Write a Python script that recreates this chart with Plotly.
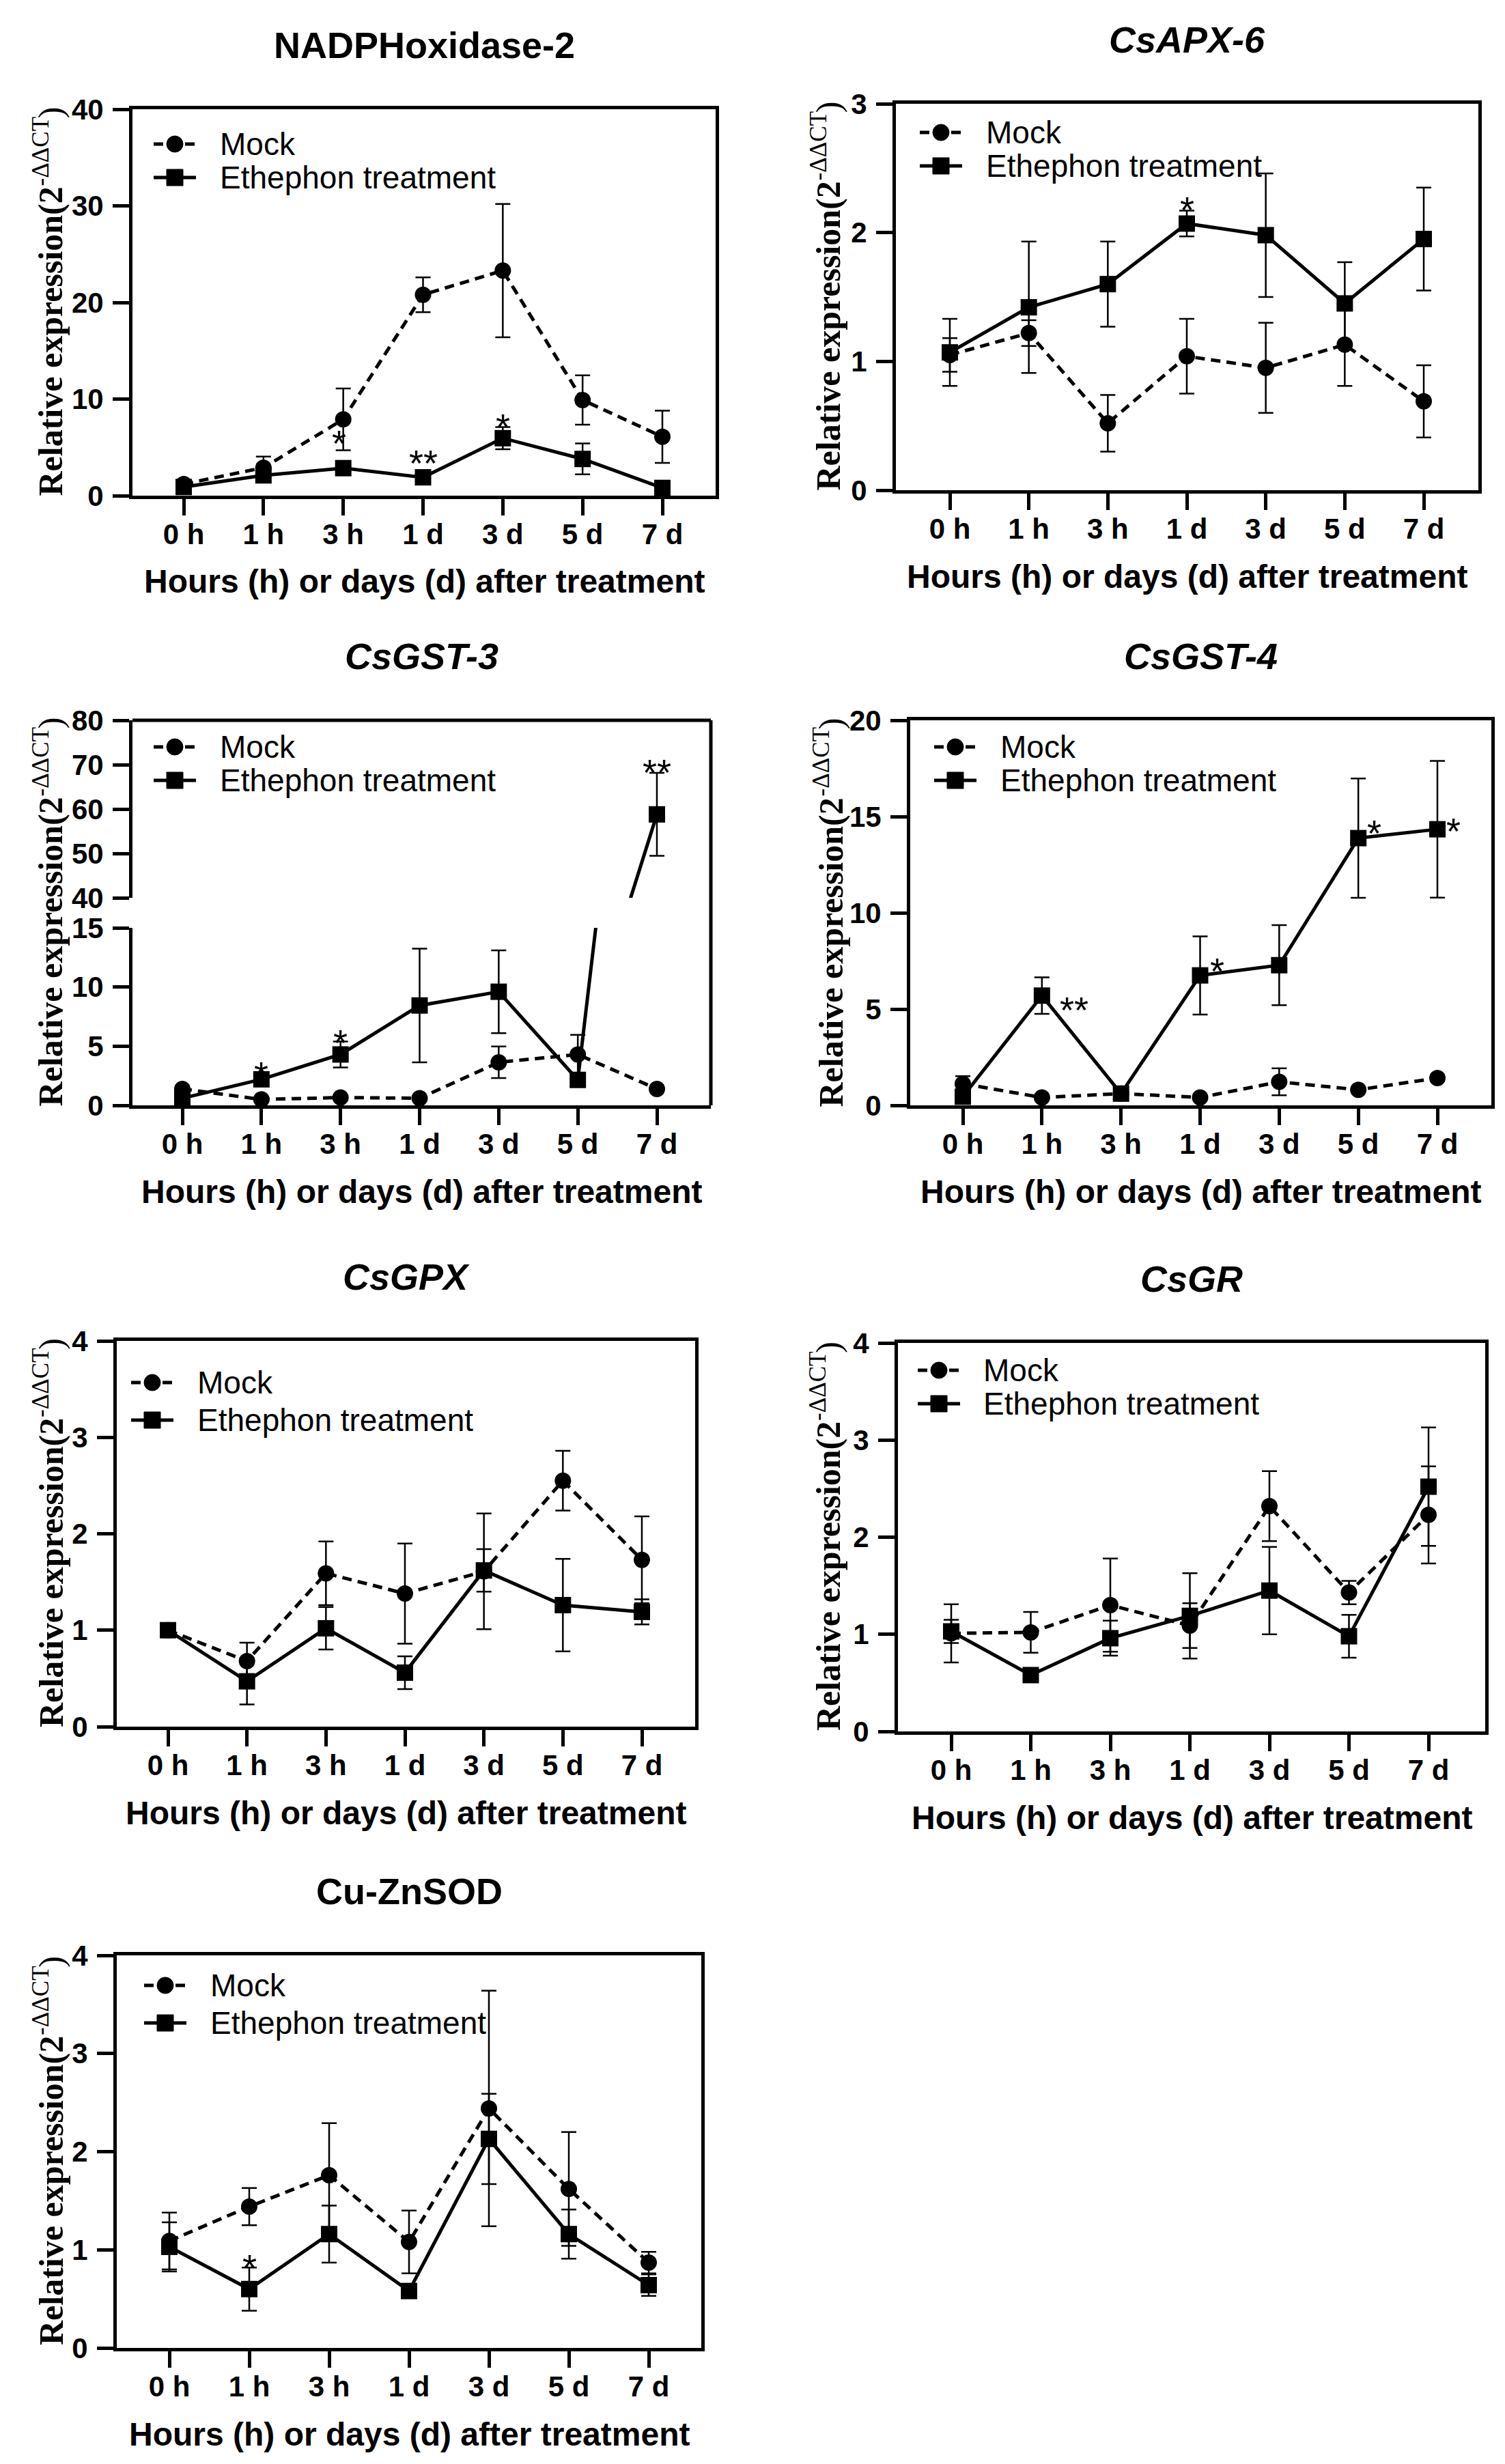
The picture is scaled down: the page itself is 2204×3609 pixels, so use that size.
import plotly.graph_objects as go

W, H = 2204, 3609
time_points = ["0 h", "1 h", "3 h", "1 d", "3 d", "5 d", "7 d"]
series_names = ["Mock", "Ethephon treatment"]
x_title = "Hours (h) or days (d) after treatment"
y_title_main = "Relative expression(2"
y_title_sup = "-ΔΔCT"
y_title_end = ")"

# ---------------- data ----------------
nadph_mock = [1.2, 2.9, 7.9, 20.8, 23.3, 9.9, 6.1]
nadph_mock_err = [0.4, 1.15, 3.2, 1.8, 6.9, 2.55, 2.7]
nadph_eth = [0.9, 2.1, 2.85, 1.9, 5.95, 3.8, 0.8]
nadph_eth_err = [0.3, 0.5, 0.5, 0.6, 1.15, 1.6, 0.3]
nadph_stars = [(1.95, 6.4, "*"), (3.0, 4.4, "**"), (4.0, 8.1, "*")]

apx_mock = [1.05, 1.22, 0.52, 1.04, 0.95, 1.13, 0.69]
apx_mock_err = [0.13, 0.10, 0.22, 0.29, 0.35, 0.32, 0.28]
apx_eth = [1.07, 1.42, 1.60, 2.07, 1.98, 1.45, 1.95]
apx_eth_err = [0.26, 0.51, 0.33, 0.10, 0.48, 0.32, 0.40]
apx_stars = [(3.0, 2.25, "*")]

gst3_mock = [1.39, 0.5, 0.66, 0.6, 3.64, 4.3, 1.39]
gst3_mock_err = [0.2, 0.1, 0.1, 0.1, 1.33, 1.65, 0.2]
gst3_eth = [0.6, 2.2, 4.3, 8.44, 9.6, 2.15, 58.8]
gst3_eth_err = [0.2, 0.3, 1.1, 4.8, 3.5, 0.3, 9.35]
gst3_stars_low = [(1.0, 3.4, "*"), (2.0, 6.1, "*")]
gst3_stars_high = [(6.0, 70.5, "**")]

gst4_mock = [1.12, 0.41, 0.61, 0.41, 1.22, 0.81, 1.42]
gst4_mock_err = [0.4, 0.1, 0.1, 0.1, 0.7, 0.1, 0.15]
gst4_eth = [0.45, 5.7, 0.61, 6.75, 7.28, 13.88, 14.34]
gst4_eth_err = [0.2, 0.95, 0.1, 2.03, 2.08, 3.1, 3.55]
gst4_stars = [(1.41, 5.46, "**"), (3.22, 7.5, "*"), (5.2, 14.65, "*"), (6.2, 14.75, "*")]

gpx_mock = [1.0, 0.68, 1.59, 1.38, 1.61, 2.55, 1.73]
gpx_mock_err = [0.02, 0.19, 0.33, 0.52, 0.6, 0.31, 0.45]
gpx_eth = [1.0, 0.47, 1.02, 0.56, 1.62, 1.26, 1.19]
gpx_eth_err = [0.02, 0.24, 0.22, 0.17, 0.22, 0.48, 0.13]

gr_mock = [1.01, 1.02, 1.30, 1.09, 2.32, 1.43, 2.23]
gr_mock_err = [0.3, 0.21, 0.48, 0.23, 0.36, 0.12, 0.5]
gr_eth = [1.03, 0.58, 0.96, 1.19, 1.45, 0.98, 2.52]
gr_eth_err = [0.12, 0.03, 0.18, 0.44, 0.45, 0.22, 0.61]

sod_mock = [1.09, 1.44, 1.76, 1.08, 2.44, 1.62, 0.87]
sod_mock_err = [0.29, 0.19, 0.53, 0.32, 1.2, 0.58, 0.11]
sod_eth = [1.03, 0.60, 1.16, 0.58, 2.13, 1.16, 0.64]
sod_eth_err = [0.25, 0.22, 0.29, 0.04, 0.46, 0.25, 0.11]
sod_stars = [(1.0, 0.92, "*")]

# ---------------- panel geometry (pixels: left, right, top, bottom) ----------------
panels = [
    dict(title="NADPHoxidase-2", italic=False, mock=nadph_mock, mock_err=nadph_mock_err,
         eth=nadph_eth, eth_err=nadph_eth_err, stars=nadph_stars, yticks=[0, 10, 20, 30, 40],
         box=(186, 1040, 152, 718), cats=(261, 962), ytdx=120, leg=(31, 126, 51, 100)),
    dict(title="CsAPX-6", italic=True, mock=apx_mock, mock_err=apx_mock_err,
         eth=apx_eth, eth_err=apx_eth_err, stars=apx_stars, yticks=[0, 1, 2, 3],
         box=(1304, 2157, 144, 710), cats=(1383, 2077), ytdx=99, leg=(35, 130, 42, 91)),
    dict(title="CsGST-3", italic=True, mock=gst3_mock, mock_err=gst3_mock_err,
         eth=gst3_eth, eth_err=gst3_eth_err, stars=gst3_stars_low, yticks=[0, 5, 10, 15],
         box=(186, 1033, 1047, 1611), cats=(259, 954), ytdx=120, leg=(31, 126, 39, 88),
         brk=dict(low_top=1351, up_bottom=1307, low=[0, 15], up=[40, 80],
                  upticks=[40, 50, 60, 70, 80], upstars=gst3_stars_high)),
    dict(title="CsGST-4", italic=True, mock=gst4_mock, mock_err=gst4_mock_err,
         eth=gst4_eth, eth_err=gst4_eth_err, stars=gst4_stars, yticks=[0, 5, 10, 15, 20],
         box=(1325, 2176, 1047, 1611), cats=(1402, 2097), ytdx=116, leg=(35, 130, 39, 88)),
    dict(title="CsGPX", italic=True, mock=gpx_mock, mock_err=gpx_mock_err,
         eth=gpx_eth, eth_err=gpx_eth_err, stars=[], yticks=[0, 1, 2, 3, 4],
         box=(163, 1010, 1956, 2521), cats=(238, 932), ytdx=96, leg=(21, 116, 61, 116)),
    dict(title="CsGR", italic=True, mock=gr_mock, mock_err=gr_mock_err,
         eth=gr_eth, eth_err=gr_eth_err, stars=[], yticks=[0, 1, 2, 3, 4],
         box=(1307, 2167, 1959, 2528), cats=(1385, 2084), ytdx=102, leg=(29, 123, 40, 89)),
    dict(title="Cu-ZnSOD", italic=False, mock=sod_mock, mock_err=sod_mock_err,
         eth=sod_eth, eth_err=sod_eth_err, stars=sod_stars, yticks=[0, 1, 2, 3, 4],
         box=(163, 1019, 2856, 3431), cats=(240, 942), ytdx=96, leg=(40, 135, 44, 99)),
]


def xp(px):
    return px / W


def yp(py):
    return 1 - py / H


SANS = "Liberation Sans"
SERIF = "Liberation Serif"
LW = 5            # frame / axis line width
DLW = 5           # data line width
DASH = "14px,9px"
MS = 24           # marker size
YT_SIZE = 50      # y-title font size
YT_SUP = 35       # superscript size
tickfont = dict(family=SANS, size=42, color="black", weight="bold")
axis_common = dict(showline=True, linewidth=LW, linecolor="black",
                   ticks="outside", ticklen=24, tickwidth=LW, tickcolor="black",
                   tickfont=tickfont, showgrid=False, zeroline=False, automargin=False)

# Times/Liberation Serif advance widths (em) used to lay out the rotated y title
_tb = {"R": .722, "e": .444, "l": .278, "a": .5, "t": .333, "i": .278, "v": .5, " ": .25,
       "x": .5, "p": .556, "r": .444, "s": .389, "o": .5, "n": .556, "(": .333, "2": .5}
_tr = {"-": .333, "Δ": .612, "C": .667, "T": .611}
main_len = sum(_tb[c] for c in y_title_main) * YT_SIZE
sup_len = sum(_tr[c] for c in y_title_sup) * YT_SUP
end_len = .333 * YT_SIZE
total_len = main_len + sup_len + end_len

fig = go.Figure()
layout = {}
annotations = []
shapes = []
next_extra_axis = 8


def star_ann(x, y, xr, yr, txt):
    return dict(x=x, y=y, xref=xr, yref=yr, text=txt, showarrow=False, yshift=-14,
                xanchor="center", yanchor="middle",
                font=dict(family=SANS, size=54, color="black"))


for i, p in enumerate(panels, start=1):
    L, R, T, B = p["box"]
    c0, c6 = p["cats"]
    unit = (c6 - c0) / 6.0
    xr = [(L - c0) / unit, (R - c0) / unit]
    sfx = "" if i == 1 else str(i)
    xkey, ykey = "xaxis" + sfx, "yaxis" + sfx
    xref, yref = "x" + sfx, "y" + sfx
    brk = p.get("brk")

    layout[xkey] = dict(domain=[xp(L), xp(R)], range=xr, type="category", anchor=yref,
                        mirror=(brk is None), ticklabelstandoff=-8, **axis_common)
    ylow = brk["low_top"] if brk else T
    yrange = brk["low"] if brk else [p["yticks"][0], p["yticks"][-1]]
    layout[ykey] = dict(domain=[yp(B), yp(ylow)], range=yrange, anchor=xref,
                        mirror=(brk is None), tickvals=p["yticks"], ticklabelstandoff=5,
                        **axis_common)
    yrefs = [yref]
    if brk:
        uk = str(next_extra_axis)
        layout["yaxis" + uk] = dict(domain=[yp(brk["up_bottom"]), yp(T)], range=brk["up"],
                                    anchor=xref, mirror=False, tickvals=brk["upticks"],
                                    ticklabelstandoff=5, **axis_common)
        yrefs.append("y" + uk)
        shapes.append(dict(type="line", xref="paper", yref="paper", x0=xp(L), x1=xp(R),
                           y0=yp(T), y1=yp(T), line=dict(color="black", width=LW)))
        shapes.append(dict(type="line", xref="paper", yref="paper", x0=xp(R), x1=xp(R),
                           y0=yp(T), y1=yp(B), line=dict(color="black", width=LW)))
        for sx, sy, st in brk["upstars"]:
            annotations.append(star_ann(sx, sy, xref, "y" + uk, st))

    for yr in yrefs:
        fig.add_trace(go.Scatter(
            x=time_points, y=p["mock"], name=series_names[0], showlegend=False,
            mode="lines+markers", xaxis=xref, yaxis=yr,
            line=dict(color="black", width=DLW, dash=DASH),
            marker=dict(symbol="circle", size=MS, color="black"),
            error_y=dict(type="data", array=p["mock_err"], visible=True,
                         color="black", thickness=2.5, width=11),
            cliponaxis=bool(brk),
        ))
        fig.add_trace(go.Scatter(
            x=time_points, y=p["eth"], name=series_names[1], showlegend=False,
            mode="lines+markers", xaxis=xref, yaxis=yr,
            line=dict(color="black", width=DLW),
            marker=dict(symbol="square", size=MS, color="black"),
            error_y=dict(type="data", array=p["eth_err"], visible=True,
                         color="black", thickness=2.5, width=11),
            cliponaxis=bool(brk),
        ))

    # legend (key drawn as line + marker, label as text)
    sdx, tdx, mdy, edy = p["leg"]
    s0, s1 = L + sdx, L + sdx + 62
    cx = (s0 + s1) / 2
    for k, (dy, name) in enumerate([(mdy, series_names[0]), (edy, series_names[1])]):
        cy = T + dy
        shapes.append(dict(type="line", xref="paper", yref="paper", x0=xp(s0), x1=xp(s1),
                           y0=yp(cy), y1=yp(cy),
                           line=dict(color="black", width=DLW, dash=DASH if k == 0 else "solid")))
        r = 12
        shapes.append(dict(type="circle" if k == 0 else "rect", xref="paper", yref="paper",
                           x0=xp(cx - r), x1=xp(cx + r), y0=yp(cy + r), y1=yp(cy - r),
                           fillcolor="black", line=dict(color="black", width=1)))
        annotations.append(dict(x=xp(L + tdx), y=yp(cy), xref="paper", yref="paper",
                                text=name, showarrow=False, xanchor="left", yanchor="middle",
                                font=dict(family=SANS, size=46, color="black")))

    ttl = "<i>%s</i>" % p["title"] if p["italic"] else p["title"]
    annotations.append(dict(x=xp((L + R) / 2), y=yp(T - 94), xref="paper", yref="paper",
                            text=ttl, showarrow=False, xanchor="center", yanchor="middle",
                            font=dict(family=SANS, size=54, color="black", weight="bold")))
    annotations.append(dict(x=xp((L + R) / 2), y=yp(B + 126), xref="paper", yref="paper",
                            text=x_title, showarrow=False, xanchor="center", yanchor="middle",
                            font=dict(family=SANS, size=48, color="black", weight="bold")))

    # rotated y title: main text, superscript, closing bracket (reading bottom to top)
    ytx = L - p["ytdx"]
    start = (T + B) / 2 + total_len / 2
    annotations.append(dict(x=xp(ytx), y=yp(start), xref="paper", yref="paper",
                            text=y_title_main, textangle=-90, showarrow=False,
                            xanchor="center", yanchor="bottom", borderpad=0,
                            font=dict(family=SERIF, size=YT_SIZE, color="black", weight="bold")))
    annotations.append(dict(x=xp(ytx - 15), y=yp(start - main_len), xref="paper", yref="paper",
                            text=y_title_sup, textangle=-90, showarrow=False,
                            xanchor="center", yanchor="bottom", borderpad=0,
                            font=dict(family=SERIF, size=YT_SUP, color="black")))
    annotations.append(dict(x=xp(ytx), y=yp(start - main_len - sup_len), xref="paper",
                            yref="paper", text=y_title_end, textangle=-90, showarrow=False,
                            xanchor="center", yanchor="bottom", borderpad=0,
                            font=dict(family=SERIF, size=YT_SIZE, color="black")))
    for sx, sy, st in p["stars"]:
        annotations.append(star_ann(sx, sy, xref, yref, st))

fig.update_layout(
    width=W, height=H, margin=dict(l=0, r=0, t=0, b=0, autoexpand=False),
    paper_bgcolor="white", plot_bgcolor="white", showlegend=False,
    annotations=annotations, shapes=shapes, **layout,
)
fig.write_html("out.html")
